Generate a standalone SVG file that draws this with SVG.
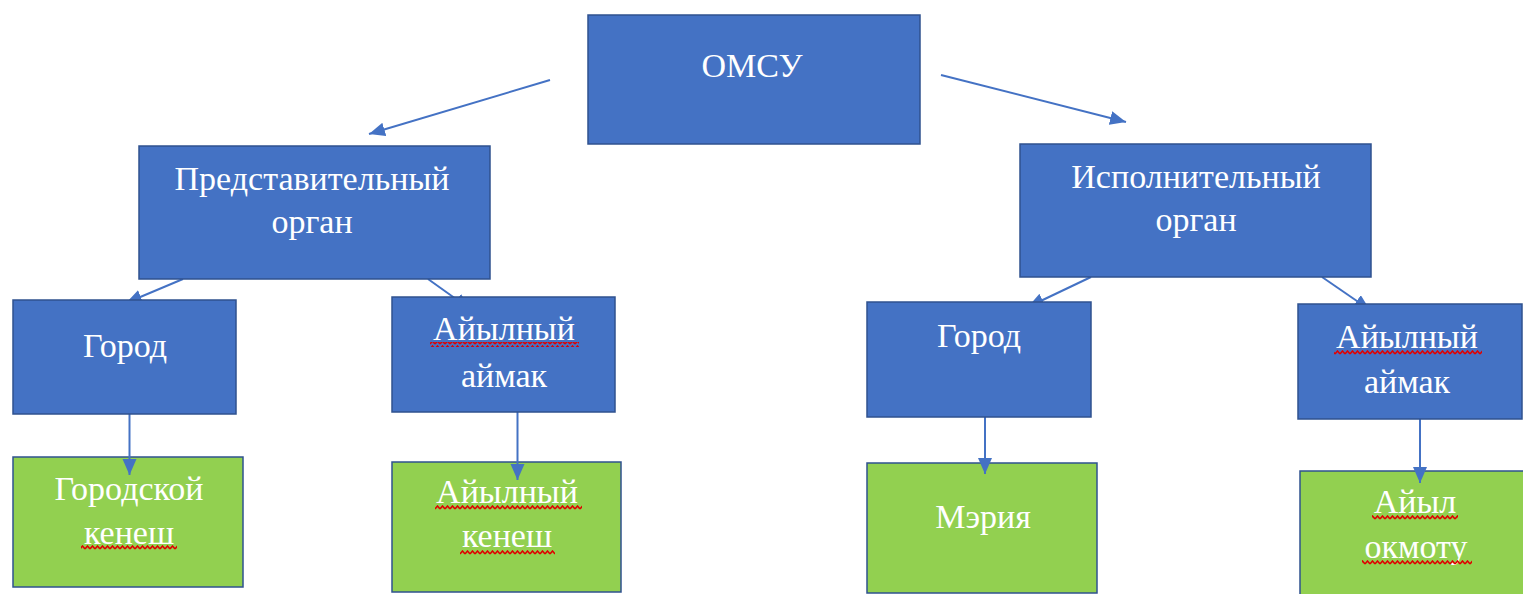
<svg xmlns="http://www.w3.org/2000/svg" width="1523" height="594" viewBox="0 0 1523 594">
<style>
.blue{fill:#4472C4;stroke:#2F528F;stroke-width:1.5}
.green{fill:#92D050;stroke:#2F528F;stroke-width:1.5}
.t{font-family:"Liberation Serif","Times New Roman",serif;font-size:34px;fill:#ffffff;text-anchor:middle}
.c{stroke:#4472C4;stroke-width:2;fill:none;marker-end:url(#ah)}
.w{fill:url(#wave)}
</style>
<defs>
<marker id="ah" markerUnits="userSpaceOnUse" markerWidth="17" markerHeight="15" refX="16" refY="7" orient="auto">
<path d="M0,0 L16,7 L0,14 z" fill="#4472C4"/>
</marker>
<pattern id="wave" width="5" height="5" patternUnits="userSpaceOnUse">
<path d="M0,4 L2.5,1 L5,4" stroke="#E00000" stroke-width="1.5" fill="none"/>
</pattern>
</defs>
<rect width="1523" height="594" fill="#ffffff"/>

<g id="n-gk"><rect class="green" x="13" y="457" width="230" height="130"/>
<text class="t" x="129" y="500">Городской</text><text class="t" x="129" y="544">кенеш</text>
<rect class="w" x="81" y="545" width="96" height="5"/></g>
<g id="n-ak"><rect class="green" x="392" y="462" width="229" height="130"/>
<text class="t" x="507" y="503">Айылный</text><text class="t" x="507" y="547">кенеш</text>
<rect class="w" x="435" y="505" width="147" height="5"/><rect class="w" x="460" y="550" width="95" height="5"/></g>
<g id="n-meria"><rect class="green" x="867" y="463" width="230" height="130"/>
<text class="t" x="983" y="528">Мэрия</text></g>
<g id="n-okmotu"><rect class="green" x="1300" y="471" width="226" height="130"/>
<text class="t" x="1415" y="513">Айыл</text><text class="t" x="1416" y="558">окмоту</text>
<rect class="w" x="1372" y="515" width="86" height="5"/><rect class="w" x="1362" y="560" width="110" height="5"/></g>

<g id="connectors">
<line class="c" x1="550" y1="80" x2="369" y2="134"/>
<line class="c" x1="941" y1="75" x2="1126" y2="122"/>
<line class="c" x1="183" y1="279" x2="126" y2="303"/>
<line class="c" x1="428" y1="279" x2="470" y2="309"/>
<line class="c" x1="1091" y1="277" x2="1028" y2="307"/>
<line class="c" x1="1322" y1="277" x2="1370" y2="310"/>
<line class="c" x1="129.5" y1="414" x2="129.5" y2="475"/>
<line class="c" x1="517.5" y1="412" x2="517.5" y2="480"/>
<line class="c" x1="985" y1="417" x2="985" y2="474"/>
<line class="c" x1="1420" y1="419" x2="1420" y2="483"/>
</g>

<g id="n-omsu"><rect class="blue" x="588" y="15" width="332" height="129"/>
<text class="t" x="752" y="77">ОМСУ</text></g>
<g id="n-pred"><rect class="blue" x="139" y="146" width="351" height="133"/>
<text class="t" x="312" y="190">Представительный</text><text class="t" x="312" y="233">орган</text></g>
<g id="n-isp"><rect class="blue" x="1020" y="144" width="351" height="133"/>
<text class="t" x="1196" y="188">Исполнительный</text><text class="t" x="1196" y="231">орган</text></g>
<g id="n-gorod1"><rect class="blue" x="13" y="300" width="223" height="114"/>
<text class="t" x="125" y="357">Город</text></g>
<g id="n-aimak1"><rect class="blue" x="392" y="297" width="223" height="115"/>
<text class="t" x="504" y="340">Айылный</text><text class="t" x="504" y="387">аймак</text>
<rect class="w" x="430" y="342" width="149" height="5"/></g>
<g id="n-gorod2"><rect class="blue" x="867" y="302" width="224" height="115"/>
<text class="t" x="979" y="347">Город</text></g>
<g id="n-aimak2"><rect class="blue" x="1298" y="304" width="224" height="115"/>
<text class="t" x="1407" y="348">Айылный</text><text class="t" x="1407" y="393">аймак</text>
<rect class="w" x="1334" y="350" width="148" height="5"/></g>
</svg>
